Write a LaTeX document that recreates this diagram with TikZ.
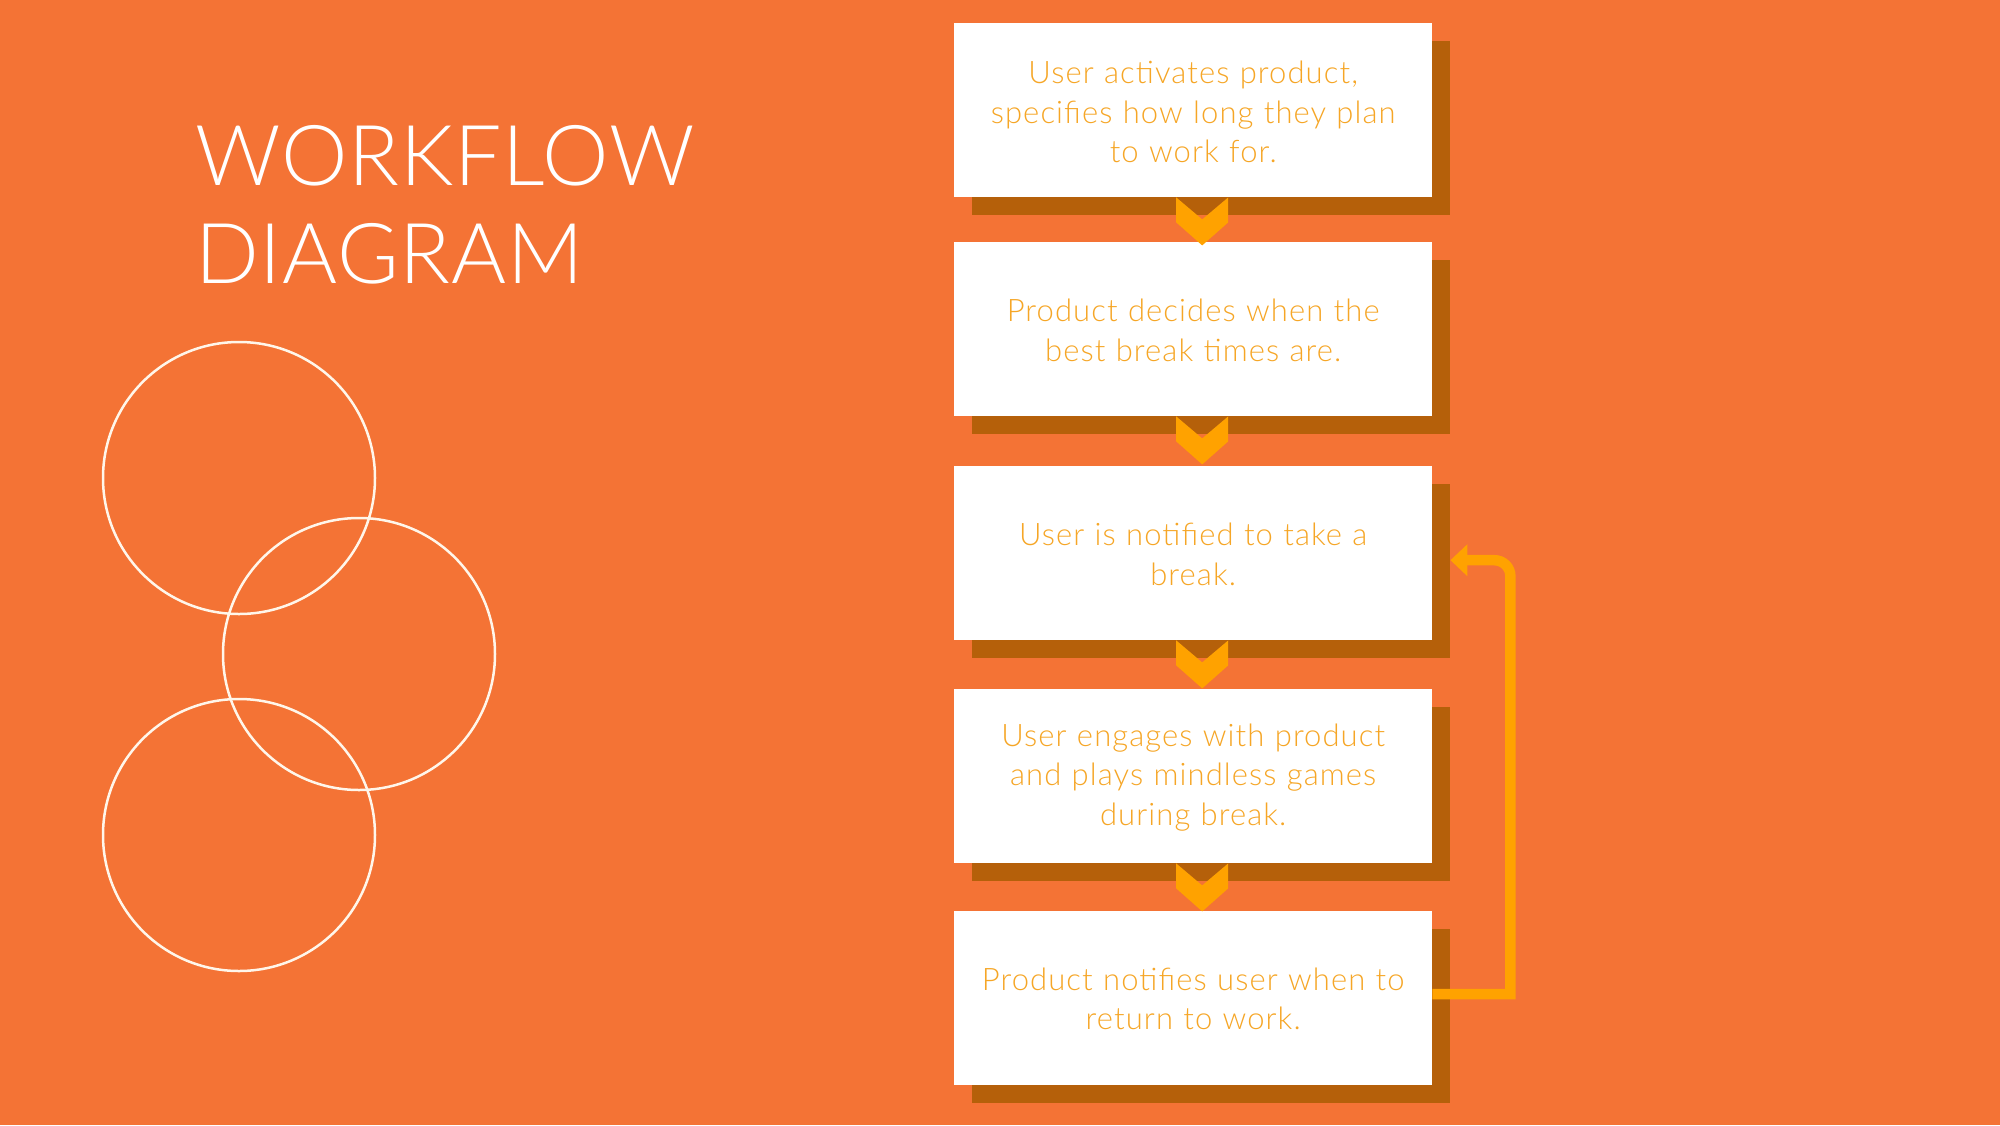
\documentclass[tikz,border=0pt]{standalone}
\usepackage{fontspec}
\newfontfamily\lightfont{Lato Light}[LetterSpace=1]
\newfontfamily\boxfont{Lato Light}[LetterSpace=3.5]
\usetikzlibrary{arrows.meta,shadows,calc}
\definecolor{bgc}{HTML}{F47335}
\definecolor{shc}{HTML}{B5600A}
\definecolor{chv}{HTML}{FFA200}
\definecolor{txc}{HTML}{F6A626}
\definecolor{cir}{HTML}{FFF6EA}
\tikzset{
  stepbox/.style={rectangle, fill=white, minimum width=478pt, minimum height=174pt,
    inner sep=0pt, anchor=north west,
    general shadow={fill=shc, shadow xshift=18pt, shadow yshift=-18pt}},
  boxtext/.style={inner sep=0pt, align=center, text width=476pt, text=txc,
    font=\boxfont\fontsize{31}{39.5}\selectfont},
  chevron/.style={fill=chv},
  ring/.style={circle, draw=cir, line width=2.5pt, minimum size=272pt, inner sep=0pt},
  loopline/.style={draw=chv, line width=10.5pt, -{Triangle[length=17pt,width=31pt]}},
  titletext/.style={text=white, align=left, anchor=base west, inner sep=0pt,
    font=\lightfont\fontsize{84}{98}\selectfont}
}
\begin{document}
\begin{tikzpicture}[x=1pt,y=-1pt]
\fill[bgc] (0,0) rectangle (2000,1125);
\useasboundingbox (0,0) rectangle (2000,1125);
% title
\node[titletext] (title) at (195,283) {WORKFLOW\\DIAGRAM};
% circles
\node[ring] (r1) at (239,478) {};
\node[ring] (r2) at (359,654) {};
\node[ring] (r3) at (239,835) {};
% boxes
\node[stepbox] (b1) at (954,23) {};
\node[stepbox] (b2) at (954,242) {};
\node[stepbox] (b3) at (954,466) {};
\node[stepbox] (b4) at (954,689) {};
\node[stepbox] (b5) at (954,911) {};
% texts
\node[boxtext] (t1) at ([yshift=-2pt]b1.center) {User activates product,\\specifies how long they plan\\to work for.};
\node[boxtext] (t2) at ([yshift=-1pt]b2.center) {Product decides when the\\best break times are.};
\node[boxtext] (t3) at ([yshift=-1pt]b3.center) {User is notified to take a\\break.};
\node[boxtext] (t4) at ([yshift=-1pt]b4.center) {User engages with product\\and plays mindless games\\during break.};
\node[boxtext] (t5) at ([yshift=-0.5pt]b5.center) {Product notifies user when to\\return to work.};
% chevrons
\foreach \a in {b1,b2,b3,b4}{
  \fill[chevron] ([xshift=-17pt]\a.south) -- ++(26,22) -- ++(26,-22) -- ++(0,25) -- ++(-26,23) -- ++(-26,-23) -- cycle;
}
% loop arrow
\coordinate (tgt) at ([shift={(18pt,-7pt)}]b3.east);
\draw[loopline] ([yshift=4pt]b5.east) -- ([xshift=78pt,yshift=4pt]b5.east) [rounded corners=16pt] -- ([xshift=60pt]tgt) -- (tgt);
\end{tikzpicture}
\end{document}
